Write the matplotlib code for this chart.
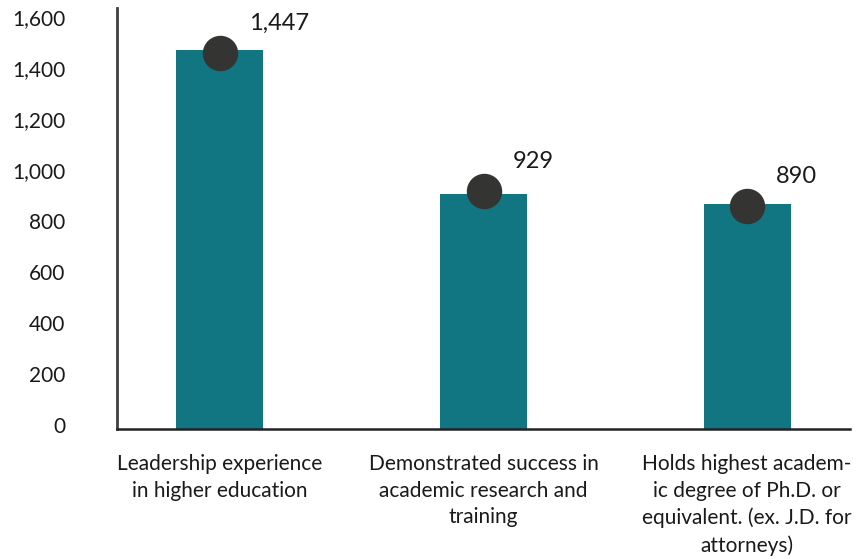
import matplotlib.pyplot as plt
import matplotlib.transforms as mtransforms

# chart data
categories = ["Leadership experience\nin higher education",
              "Demonstrated success in\nacademic research and\ntraining",
              "Holds highest academ-\nic degree of Ph.D. or\nequivalent. (ex. J.D. for\nattorneys)"]
bar_values = [1485, 920, 880]
dot_values = [1475, 933, 874]
value_labels = ["1,447", "929", "890"]
y_ticks = [0, 200, 400, 600, 800, 1000, 1200, 1400, 1600]
y_tick_labels = ["0", "200", "400", "600", "800", "1,000", "1,200", "1,400", "1,600"]

plt.rcParams['font.family'] = ['Lato', 'DejaVu Sans']

teal = "#127682"
dark = "#343432"

fig = plt.figure(figsize=(8.56, 5.59), dpi=100)
ax = fig.add_axes([117/856, 1 - 429/559, 733/856, 421/559])

x = list(range(len(categories)))
ax.bar(x, bar_values, width=0.33, color=teal, zorder=2)
ax.plot(x, dot_values, 'o', ms=24.5, color=dark, zorder=3)
for xi, v, lab in zip(x, dot_values, value_labels):
    ax.annotate(lab, (xi, v), xytext=(21, 21), textcoords='offset points',
                ha='left', va='center', fontsize=17, color='#1a1a1a')

ax.set_xlim(-0.39, 2.39)
ax.set_ylim(0, 1650)
ax.set_yticks(y_ticks)
ax.set_yticklabels(y_tick_labels, fontsize=15, color='#1a1a1a')
ax.set_xticks(x)
ax.set_xticklabels(categories, fontsize=15, color='#1a1a1a', linespacing=1.42, va='top')
ax.tick_params(axis='y', length=0, pad=37)
ax.tick_params(axis='x', length=0, pad=18)

# y labels sit a few pixels above their gridline in the original
shift = mtransforms.ScaledTranslation(0, 4/100, fig.dpi_scale_trans)
for lab in ax.get_yticklabels():
    lab.set_transform(lab.get_transform() + shift)

for s in ['top', 'right']:
    ax.spines[s].set_visible(False)
ax.spines['left'].set_color('#404040')
ax.spines['left'].set_linewidth(2)
ax.spines['bottom'].set_color('#222222')
ax.spines['bottom'].set_linewidth(1.8)

fig.savefig("out.png", dpi=100)
